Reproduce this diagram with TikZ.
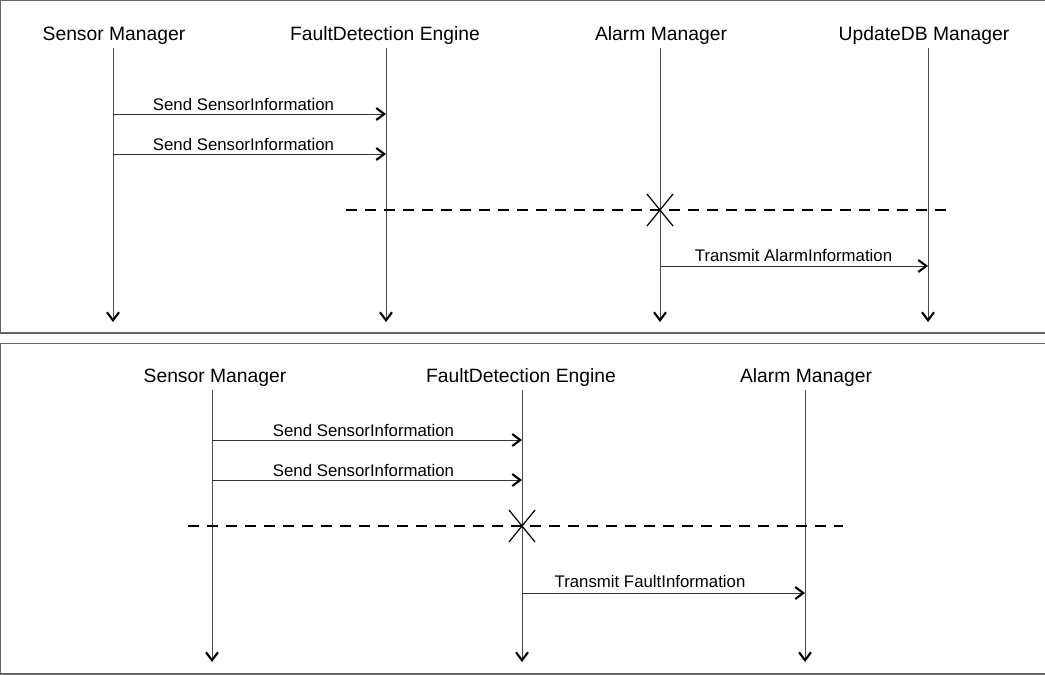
\documentclass[tikz,border=0pt]{standalone}
\usepackage{fontspec}
\setmainfont{Liberation Sans}
\usetikzlibrary{arrows.meta,calc}
\begin{document}
\begin{tikzpicture}[x=1pt,y=-1pt,
  frame/.style={draw=black!60,line width=1.3pt},
  head/.style={font=\fontsize{19.3}{21}\selectfont,anchor=base},
  tip/.tip={Straight Barb[length=8pt,width=12pt,line width=2.1pt,color=black]},
  life/.style={draw=black!70,line width=1pt,-tip},
  msg/.style={draw=black!80,line width=1pt,-tip},
  mlabel/.style={font=\fontsize{16.8}{18}\selectfont,anchor=base},
  sep/.style={draw=black,line width=2.4pt,dash pattern=on 11pt off 8pt},
  xmark/.style={draw=black,line width=1.2pt}]
\useasboundingbox (0,0) rectangle (1045,675);
\fill[white] (0,0) rectangle (1045,675);
% frames
\draw[frame] (1046,0.6) -- (0.6,0.6) -- (0.6,333) -- (1046,333);
\draw[frame] (1046,343.5) -- (0.6,343.5) -- (0.6,674) -- (1046,674);

% ---------- upper diagram ----------
\node[head] (s1) at (114,40) {Sensor Manager};
\node[head] (f1) at (385,40) {FaultDetection Engine};
\node[head] (a1) at (661,40) {Alarm Manager};
\node[head] (u1) at (924,40) {UpdateDB Manager};
\coordinate (s1t) at (113,48); \coordinate (s1b) at (113,322);
\coordinate (f1t) at (386,48); \coordinate (f1b) at (386,322);
\coordinate (a1t) at (660,48); \coordinate (a1b) at (660,322);
\coordinate (u1t) at (928,48); \coordinate (u1b) at (928,322);
\draw[life] (s1t) -- (s1b);
\draw[life] (f1t) -- (f1b);
\draw[life] (a1t) -- (a1b);
\draw[life] (u1t) -- (u1b);

\coordinate (m1a) at (113,114); \coordinate (m1b) at (386,114);
\coordinate (m2a) at (113,154); \coordinate (m2b) at (386,154);
\draw[msg] (m1a) -- (m1b);
\draw[msg] (m2a) -- (m2b);
\node[mlabel] (l1) at (243.5,110) {Send SensorInformation};
\node[mlabel] (l2) at (243.5,150) {Send SensorInformation};

\coordinate (d1a) at (346,210); \coordinate (d1b) at (946,210);
\draw[sep] (d1a) -- (d1b);
\coordinate (x1) at (660,210);
\draw[xmark] ($(x1)+(-13,-16)$) -- ($(x1)+(13,16)$);
\draw[xmark] ($(x1)+(13,-16)$) -- ($(x1)+(-13,16)$);

\coordinate (m3a) at (660,266); \coordinate (m3b) at (928,266);
\draw[msg] (m3a) -- (m3b);
\node[mlabel] (l3) at (793.5,261) {Transmit AlarmInformation};

% ---------- lower diagram ----------
\node[head] (s2) at (215,382) {Sensor Manager};
\node[head] (f2) at (521,382) {FaultDetection Engine};
\node[head] (a2) at (806,382) {Alarm Manager};
\coordinate (s2t) at (212,390); \coordinate (s2b) at (212,662);
\coordinate (f2t) at (522,390); \coordinate (f2b) at (522,662);
\coordinate (a2t) at (805,390); \coordinate (a2b) at (805,662);
\draw[life] (s2t) -- (s2b);
\draw[life] (f2t) -- (f2b);
\draw[life] (a2t) -- (a2b);

\coordinate (n1a) at (212,440); \coordinate (n1b) at (522,440);
\coordinate (n2a) at (212,480); \coordinate (n2b) at (522,480);
\draw[msg] (n1a) -- (n1b);
\draw[msg] (n2a) -- (n2b);
\node[mlabel] (l4) at (363.5,436) {Send SensorInformation};
\node[mlabel] (l5) at (363.5,476) {Send SensorInformation};

\coordinate (d2a) at (188,526); \coordinate (d2b) at (843,526);
\draw[sep] (d2a) -- (d2b);
\coordinate (x2) at (522,526);
\draw[xmark] ($(x2)+(-13,-16)$) -- ($(x2)+(13,16)$);
\draw[xmark] ($(x2)+(13,-16)$) -- ($(x2)+(-13,16)$);

\coordinate (n3a) at (522,593); \coordinate (n3b) at (805,593);
\draw[msg] (n3a) -- (n3b);
\node[mlabel] (l6) at (650,587) {Transmit FaultInformation};
\end{tikzpicture}
\end{document}
